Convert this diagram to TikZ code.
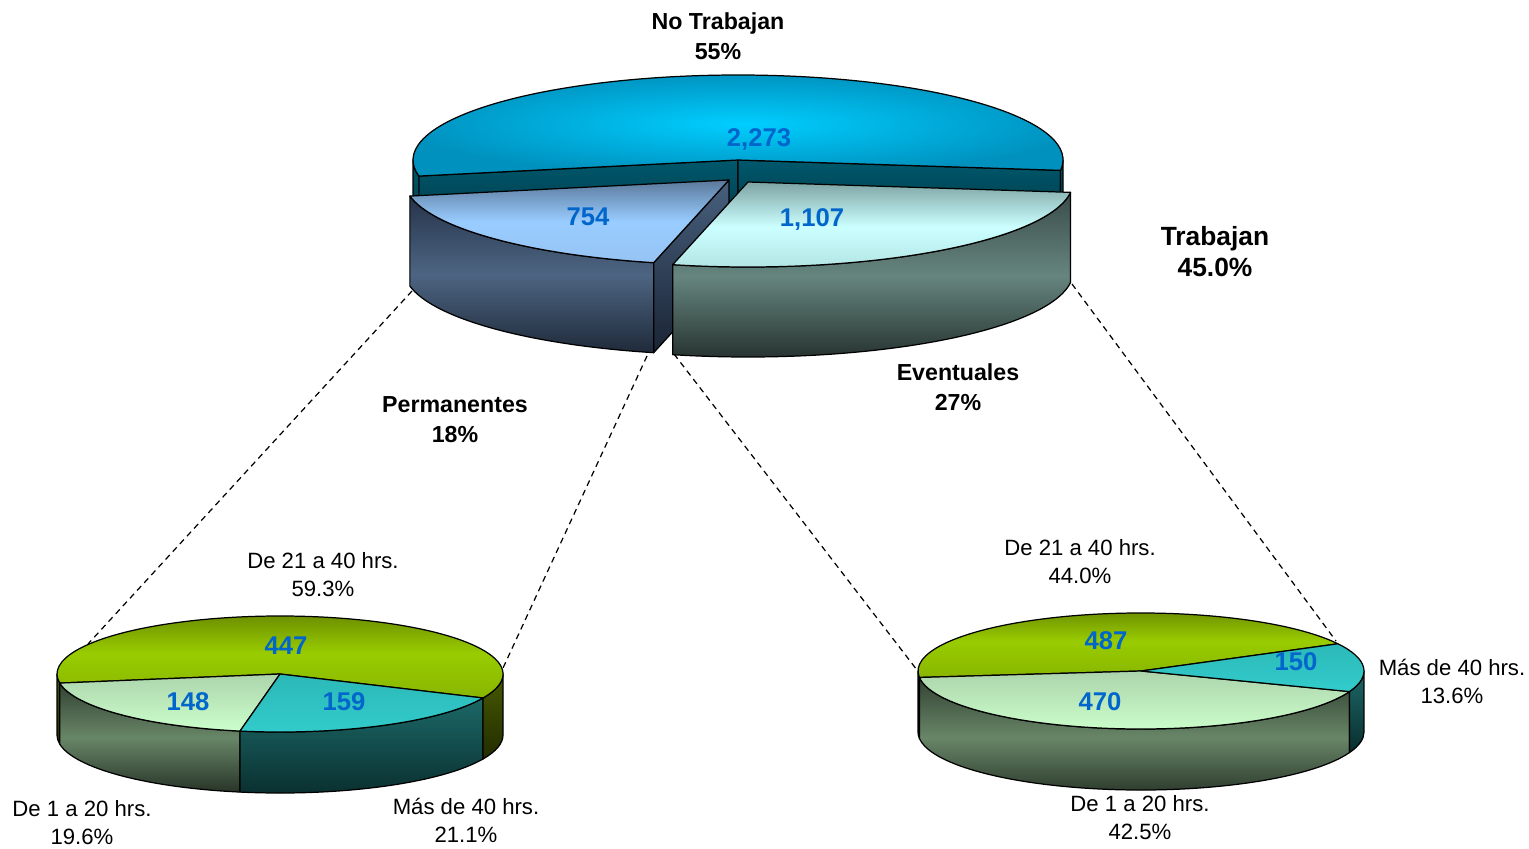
\documentclass[tikz,border=0pt]{standalone}
\usepackage{fontspec}
\setmainfont{Liberation Sans}
\begin{document}
\begin{tikzpicture}[x=0.02cm,y=0.02cm,
    pie_edge/.style={draw=black,line width=0.7pt,line join=round},
    val_lbl/.style={font=\fontsize{14.6}{17}\selectfont\bfseries,text=val_blue},
    cat_lbl/.style={font=\fontsize{13.2}{17}\selectfont\bfseries,align=center},
    sub_lbl/.style={font=\fontsize{12.6}{15.9}\selectfont,align=center},
    link_line/.style={draw=black,line width=0.7pt,dash pattern=on 3.4pt off 2.6pt},
    notrab_top/.style={inner color=notrab_topA,outer color=notrab_topB},
    notrab_cut/.style={top color=notrab_cutA,bottom color=notrab_cutB},
    perm_top/.style={top color=perm_topA,bottom color=perm_topC,middle color=perm_topB},
    perm_side/.style={top color=perm_sideA,bottom color=perm_sideC,middle color=perm_sideB},
    perm_cut/.style={top color=perm_cutA,bottom color=perm_cutB},
    even_top/.style={top color=even_topA,bottom color=even_topC,middle color=even_topB},
    even_side/.style={top color=even_sideA,bottom color=even_sideC,middle color=even_sideB},
    olive_top/.style={top color=olive_topA,bottom color=olive_topC,middle color=olive_topB},
    olive_side/.style={top color=olive_sideA,bottom color=olive_sideB},
    mint_top/.style={top color=mint_topA,bottom color=mint_topB},
    mint_side/.style={top color=mint_sideA,bottom color=mint_sideC,middle color=mint_sideB},
    teal_top/.style={top color=teal_topA,bottom color=teal_topB},
    teal_side/.style={top color=teal_sideA,bottom color=teal_sideB}]
    \definecolor{val_blue}{RGB}{0,102,204}
    \definecolor{notrab_topA}{RGB}{0,206,255}
    \definecolor{notrab_topB}{RGB}{0,145,190}
    \definecolor{notrab_cutA}{RGB}{0,88,108}
    \definecolor{notrab_cutB}{RGB}{0,40,52}
    \definecolor{perm_topA}{RGB}{90,120,154}
    \definecolor{perm_topB}{RGB}{153,204,255}
    \definecolor{perm_topC}{RGB}{150,196,244}
    \definecolor{perm_sideA}{RGB}{38,51,74}
    \definecolor{perm_sideB}{RGB}{77,101,130}
    \definecolor{perm_sideC}{RGB}{31,42,58}
    \definecolor{perm_cutA}{RGB}{72,96,126}
    \definecolor{perm_cutB}{RGB}{26,36,52}
    \definecolor{even_topA}{RGB}{126,164,164}
    \definecolor{even_topB}{RGB}{204,255,255}
    \definecolor{even_topC}{RGB}{176,226,226}
    \definecolor{even_sideA}{RGB}{58,76,74}
    \definecolor{even_sideB}{RGB}{102,133,127}
    \definecolor{even_sideC}{RGB}{38,50,47}
    \definecolor{olive_topA}{RGB}{100,132,0}
    \definecolor{olive_topB}{RGB}{153,204,0}
    \definecolor{olive_topC}{RGB}{136,182,0}
    \definecolor{olive_sideA}{RGB}{72,90,0}
    \definecolor{olive_sideB}{RGB}{34,44,0}
    \definecolor{mint_topA}{RGB}{172,212,172}
    \definecolor{mint_topB}{RGB}{204,255,204}
    \definecolor{mint_sideA}{RGB}{50,66,50}
    \definecolor{mint_sideB}{RGB}{104,134,104}
    \definecolor{mint_sideC}{RGB}{40,52,40}
    \definecolor{teal_topA}{RGB}{44,184,184}
    \definecolor{teal_topB}{RGB}{51,204,204}
    \definecolor{teal_sideA}{RGB}{28,104,104}
    \definecolor{teal_sideB}{RGB}{10,46,46}
    \useasboundingbox (0,0) rectangle (1529,-849);

    % dashed links between the big pie and the two small ones
    \coordinate (perm_low_l) at (412,-291);
    \coordinate (perm_low_r) at (647,-356);
    \coordinate (even_low_l) at (674,-354);
    \coordinate (even_low_r) at (1072,-284);
    \coordinate (pieA_rim_l) at (88,-644);
    \coordinate (pieA_rim_r) at (503,-668);
    \coordinate (pieB_rim_l) at (917,-670);
    \coordinate (pieB_rim_r) at (1336,-641);
    \draw[link_line] (perm_low_l) -- (pieA_rim_l);
    \draw[link_line] (perm_low_r) -- (pieA_rim_r);
    \draw[link_line] (even_low_l) -- (pieB_rim_l);
    \draw[link_line] (even_low_r) -- (pieB_rim_r);

    % big pie: No Trabajan
    \begin{scope}[shift={(738,-160)}]
    \shade[pie_edge,notrab_cut] (0,0) -- (190.9:325 and 85) -- ++(0,-90) -- (0,-90) -- cycle;
    \shade[pie_edge,notrab_cut] (0,0) -- (-7:325 and 85) -- ++(0,-90) -- (0,-90) -- cycle;
    \shade[pie_edge,notrab_cut] (180:325 and 85) arc[start angle=180,end angle=190.9,x radius=325,y radius=85] -- ++(0,-90) arc[start angle=190.9,end angle=180,x radius=325,y radius=85] -- cycle;
    \shade[pie_edge,notrab_cut] (353:325 and 85) arc[start angle=353,end angle=360,x radius=325,y radius=85] -- ++(0,-90) arc[start angle=360,end angle=353,x radius=325,y radius=85] -- cycle;
    \shade[pie_edge,notrab_top] (0,0) -- (-7:325 and 85) arc[start angle=-7,end angle=190.9,x radius=325,y radius=85] -- cycle;
    \end{scope}
    % big pie: Permanentes
    \begin{scope}[shift={(729,-180)}]
    \shade[pie_edge,perm_side] (190.9:325 and 85) arc[start angle=190.9,end angle=256.6,x radius=325,y radius=85] -- ++(0,-90) arc[start angle=256.6,end angle=190.9,x radius=325,y radius=85] -- cycle;
    \shade[pie_edge,perm_cut] (0,0) -- (256.6:325 and 85) -- ++(0,-90) -- (0,-90) -- cycle;
    \shade[pie_edge,perm_top] (0,0) -- (190.9:325 and 85) arc[start angle=190.9,end angle=256.6,x radius=325,y radius=85] -- cycle;
    \end{scope}
    % big pie: Eventuales
    \begin{scope}[shift={(748,-182)}]
    \shade[pie_edge,even_side] (256.6:325 and 85) arc[start angle=256.6,end angle=353,x radius=325,y radius=85] -- ++(0,-90) arc[start angle=353,end angle=256.6,x radius=325,y radius=85] -- cycle;
    \shade[pie_edge,even_top] (0,0) -- (256.6:325 and 85) arc[start angle=256.6,end angle=353,x radius=325,y radius=85] -- cycle;
    \end{scope}

    % small pie (Permanentes)
    \begin{scope}[shift={(280,-674)}]
    \shade[pie_edge,olive_side] (180:223 and 58) arc[start angle=180,end angle=189,x radius=223,y radius=58] -- ++(0,-61) arc[start angle=189,end angle=180,x radius=223,y radius=58] -- cycle;
    \shade[pie_edge,mint_side] (189:223 and 58) arc[start angle=189,end angle=259.67,x radius=223,y radius=58] -- ++(0,-61) arc[start angle=259.67,end angle=189,x radius=223,y radius=58] -- cycle;
    \shade[pie_edge,teal_side] (259.67:223 and 58) arc[start angle=259.67,end angle=335.58,x radius=223,y radius=58] -- ++(0,-61) arc[start angle=335.58,end angle=259.67,x radius=223,y radius=58] -- cycle;
    \shade[pie_edge,olive_side] (335.58:223 and 58) arc[start angle=335.58,end angle=360,x radius=223,y radius=58] -- ++(0,-61) arc[start angle=360,end angle=335.58,x radius=223,y radius=58] -- cycle;
    \shade[pie_edge,olive_top] (0,0) -- (335.58:223 and 58) arc[start angle=335.58,end angle=549,x radius=223,y radius=58] -- cycle;
    \shade[pie_edge,mint_top] (0,0) -- (189:223 and 58) arc[start angle=189,end angle=259.67,x radius=223,y radius=58] -- cycle;
    \shade[pie_edge,teal_top] (0,0) -- (259.67:223 and 58) arc[start angle=259.67,end angle=335.58,x radius=223,y radius=58] -- cycle;
    \end{scope}

    % small pie (Eventuales)
    \begin{scope}[shift={(1141,-671)}]
    \shade[pie_edge,olive_side] (180:223 and 58) arc[start angle=180,end angle=186.4,x radius=223,y radius=58] -- ++(0,-61) arc[start angle=186.4,end angle=180,x radius=223,y radius=58] -- cycle;
    \shade[pie_edge,mint_side] (186.4:223 and 58) arc[start angle=186.4,end angle=339.2,x radius=223,y radius=58] -- ++(0,-61) arc[start angle=339.2,end angle=186.4,x radius=223,y radius=58] -- cycle;
    \shade[pie_edge,teal_side] (339.2:223 and 58) arc[start angle=339.2,end angle=360,x radius=223,y radius=58] -- ++(0,-61) arc[start angle=360,end angle=339.2,x radius=223,y radius=58] -- cycle;
    \shade[pie_edge,olive_top] (0,0) -- (28:223 and 58) arc[start angle=28,end angle=186.4,x radius=223,y radius=58] -- cycle;
    \shade[pie_edge,mint_top] (0,0) -- (186.4:223 and 58) arc[start angle=186.4,end angle=339.2,x radius=223,y radius=58] -- cycle;
    \shade[pie_edge,teal_top] (0,0) -- (339.2:223 and 58) arc[start angle=339.2,end angle=388,x radius=223,y radius=58] -- cycle;
    \end{scope}

    % values
    \node[val_lbl] (notrab_val) at (759,-140) {2,273};
    \node[val_lbl] (perm_val) at (588,-217) {754};
    \node[val_lbl] (even_val) at (812,-220) {1,107};
    \node[val_lbl] (pA_mid_val) at (286,-646) {447};
    \node[val_lbl] (pA_low_val) at (188,-702) {148};
    \node[val_lbl] (pA_high_val) at (344,-702) {159};
    \node[val_lbl] (pB_mid_val) at (1106,-641) {487};
    \node[val_lbl] (pB_high_val) at (1296,-662) {150};
    \node[val_lbl] (pB_low_val) at (1100,-702) {470};

    % category labels
    \node[cat_lbl] (notrab_lbl) at (718,-36) {No Trabajan\\55\%};
    \node[cat_lbl] (perm_lbl) at (455,-420) {Permanentes\\18\%};
    \node[cat_lbl] (even_lbl) at (958,-387) {Eventuales\\27\%};
    \node[cat_lbl,font=\fontsize{15}{17.6}\selectfont\bfseries] (trab_lbl) at (1215,-252) {Trabajan\\45.0\%};
    \node[sub_lbl] (pA_mid_lbl) at (323,-575) {De 21 a 40 hrs.\\59.3\%};
    \node[sub_lbl] (pA_low_lbl) at (82,-823) {De 1 a 20 hrs.\\19.6\%};
    \node[sub_lbl] (pA_high_lbl) at (466,-820) {Más de 40 hrs.\\21.1\%};
    \node[sub_lbl] (pB_mid_lbl) at (1080,-562) {De 21 a 40 hrs.\\44.0\%};
    \node[sub_lbl] (pB_high_lbl) at (1452,-681) {Más de 40 hrs.\\13.6\%};
    \node[sub_lbl] (pB_low_lbl) at (1140,-818) {De 1 a 20 hrs.\\42.5\%};
\end{tikzpicture}
\end{document}
